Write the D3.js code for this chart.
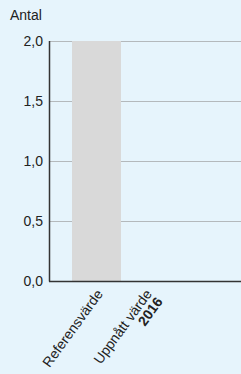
<!DOCTYPE html>
<html>
<head>
<meta charset="UTF-8">
<title>Antal</title>
<style>
  body { margin: 0; background: #e6f4fc; }
  svg { display: block; font-family: "Liberation Sans", Arial, sans-serif; }
</style>
</head>
<body>
<svg></svg>
<script src="https://d3js.org/d3.v7.min.js"></script>
<script>
  var categories = ["Referensvärde", "Uppnått värde"];
  var values = [2, 0];
  var yTicks = [0, 0.5, 1, 1.5, 2];
  var subLabel = "2016";

  var width = 241, height = 374;
  var mLeft = 49, mRight = 241, mTop = 41, mBottom = 281;
  var fs = 14;

  var svg = d3.select("svg").attr("width", width).attr("height", height);
  svg.append("rect").attr("width", width).attr("height", height).attr("fill", "#e6f4fc");

  var y = d3.scaleLinear().domain([0, 2]).range([mBottom, mTop]);
  var x = d3.scaleBand().domain(categories).range([72, 170]).paddingInner(0);

  // gridlines
  svg.append("g").selectAll("line").data(yTicks.filter(function (d) { return d > 0; }))
    .enter().append("line")
    .attr("x1", mLeft).attr("x2", mRight)
    .attr("y1", function (d) { return y(d) + 0.5; }).attr("y2", function (d) { return y(d) + 0.5; })
    .attr("stroke", "#b4b9bc").attr("stroke-width", 1);

  // bars
  svg.append("g").selectAll("rect").data(values).enter().append("rect")
    .attr("x", function (d, i) { return x(categories[i]); })
    .attr("width", x.bandwidth())
    .attr("y", function (d) { return y(d); })
    .attr("height", function (d) { return mBottom - y(d); })
    .attr("fill", "#d9d9d9");

  // axes lines
  svg.append("line").attr("x1", mLeft + 0.5).attr("x2", mLeft + 0.5).attr("y1", mTop).attr("y2", mBottom + 0.5)
    .attr("stroke", "#333").attr("stroke-width", 1.5);
  svg.append("line").attr("x1", mLeft).attr("x2", mRight).attr("y1", mBottom + 0.5).attr("y2", mBottom + 0.5)
    .attr("stroke", "#333").attr("stroke-width", 1.5);

  // y tick labels
  svg.append("g").selectAll("text").data(yTicks).enter().append("text")
    .attr("x", 43).attr("y", function (d) { return y(d) + 5; })
    .attr("text-anchor", "end").attr("font-size", fs).attr("fill", "#222")
    .text(function (d) { return d3.format(".1f")(d).replace(".", ","); });

  svg.append("text").attr("x", 10).attr("y", 20).attr("font-size", fs).attr("fill", "#222").text("Antal");

  // x labels
  var xl = svg.append("g").selectAll("g").data(categories).enter().append("g")
    .attr("transform", function (d) { return "translate(" + (x(d) + x.bandwidth() / 2 + 3) + "," + (mBottom + 10) + ") rotate(-54)"; });
  xl.append("text").attr("text-anchor", "end").attr("font-size", fs).attr("fill", "#222")
    .attr("dy", "0.35em")
    .text(function (d) { return d; });
  xl.filter(function (d, i) { return i === 1; }).append("text")
    .attr("text-anchor", "end").attr("font-size", fs).attr("font-weight", "bold").attr("fill", "#222")
    .attr("dy", "1.3em")
    .text(subLabel);
</script>
</body>
</html>
